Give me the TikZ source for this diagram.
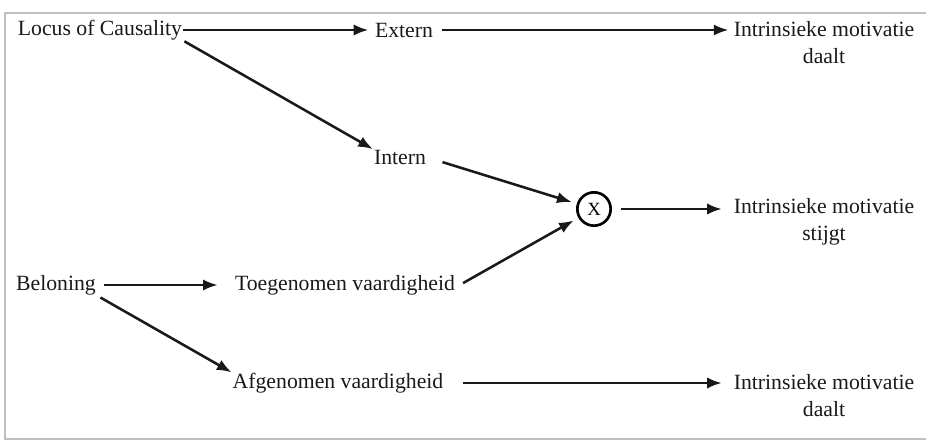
\documentclass[tikz,border=0pt]{standalone}
\usepackage{fontspec}
\setmainfont{Liberation Serif}
\usetikzlibrary{arrows.meta}
\begin{document}
\begin{tikzpicture}[x=0.75pt,y=-0.75pt,
  lbl/.style={inner sep=0pt,outer sep=0pt,font=\fontsize{16.3}{20.3}\selectfont,align=center,text=black!90},
  arr/.style={line width=1.9pt,black!90,-{Latex[length=11pt,width=8.5pt]}}]
\useasboundingbox (0,0) rectangle (926,443);
\draw[black!25,line width=1.5pt] (5,13) rectangle (935,439);
\node[lbl] (locus) at (100,30) {Locus of Causality};
\node[lbl] (extern) at (404,30) {Extern};
\node[lbl] (daalt1) at (824,43) {Intrinsieke motivatie\\daalt};
\node[lbl] (intern) at (400,157) {Intern};
\node[circle,draw,line width=2pt,minimum size=25pt,inner sep=0pt,font=\fontsize{14}{16}\selectfont] (x) at (594,209) {X};
\node[lbl] (stijgt) at (824,222) {Intrinsieke motivatie\\stijgt};
\node[lbl] (beloning) at (56,285) {Beloning};
\node[lbl] (toeg) at (345,285) {Toegenomen vaardigheid};
\node[lbl] (afg) at (338,383) {Afgenomen vaardigheid};
\node[lbl] (daalt2) at (824,396) {Intrinsieke motivatie\\daalt};
\draw[arr,shorten <=1pt,shorten >=5pt] (locus.east) -- (extern.west);
\draw[arr,shorten <=2pt,shorten >=1pt] (locus.south east) -- (intern.north west);
\draw[arr,shorten <=7pt,shorten >=4pt] (extern.east) -- (extern.east -| daalt1.west);
\draw[arr,shorten <=13pt,shorten >=4pt] (intern.east) -- (x);
\draw[arr,shorten <=7pt,shorten >=4pt] ([yshift=-2]toeg.east) -- (x);
\draw[arr,shorten <=7pt,shorten >=9pt] (x.east) -- (x.east -| stijgt.west);
\draw[arr,shorten <=6pt,shorten >=13pt] (beloning.east) -- (toeg.west);
\draw[arr,shorten <=4pt,shorten >=1pt] (beloning.south east) -- (afg.north west);
\draw[arr,shorten <=15pt,shorten >=9pt] (afg.east) -- (afg.east -| daalt2.west);
\end{tikzpicture}
\end{document}
